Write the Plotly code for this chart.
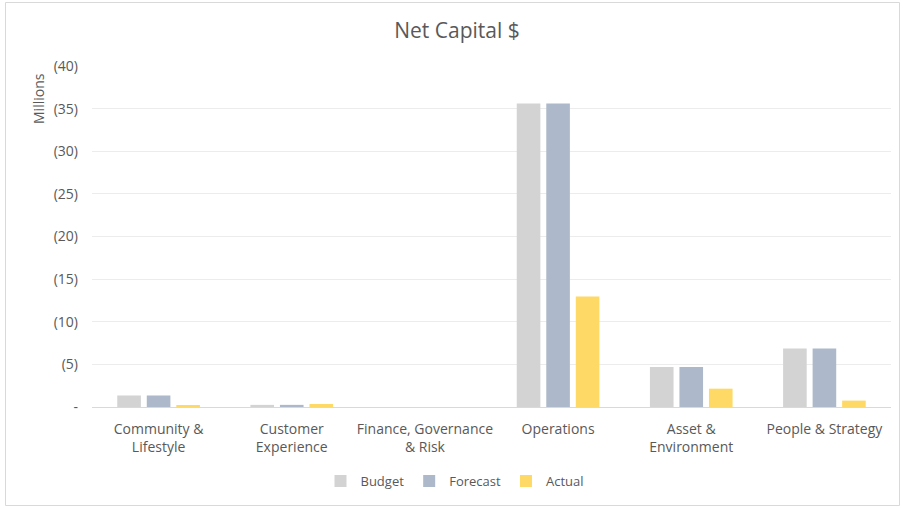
import plotly.graph_objects as go

categories = ["Community &<br>Lifestyle", "Customer<br>Experience", "Finance, Governance<br>& Risk",
              "Operations", "Asset &<br>Environment", "People & Strategy"]
budget = [1.35, 0.25, 0.0, 35.6, 4.7, 6.85]
forecast = [1.35, 0.25, 0.0, 35.6, 4.7, 6.85]
actual = [0.15, 0.35, 0.0, 12.95, 2.15, 0.75]
tick_vals = [0, 5, 10, 15, 20, 25, 30, 35, 40]
tick_text = ["-", "(5)", "(10)", "(15)", "(20)", "(25)", "(30)", "(35)", "(40)"]

W, H = 903, 508
L, R, T, B = 92, 12, 66, 101
pw, ph = W - L - R, H - T - B

def px(x):
    return (x - L) / pw

def py(y):
    return (H - B - y) / ph

font = "Open Sans, Liberation Sans, sans-serif"
grey = "#595959"

fig = go.Figure()
for name, vals, col in [("Budget", budget, "#d3d3d3"), ("Forecast", forecast, "#adb9ca"), ("Actual", actual, "#ffd966")]:
    fig.add_bar(x=categories, y=vals, name=name, marker=dict(color=col, line=dict(width=0)))

fig.update_layout(
    width=W, height=H,
    margin=dict(l=L, r=R, t=T, b=B),
    paper_bgcolor="white", plot_bgcolor="white",
    barmode="group", bargap=0.335, bargroupgap=0.2,
    font=dict(family=font, color=grey, size=13),
    title=dict(text="Net Capital $", x=px(457), xref="paper", xanchor="center",
               y=1 - 31 / H, yanchor="middle", font=dict(size=21, color=grey)),
    legend=dict(orientation="h", x=px(455), xanchor="center", y=py(481), yanchor="middle",
                font=dict(size=13, color=grey), itemwidth=30, traceorder="normal"),
    showlegend=True,
)
fig.update_yaxes(range=[0, 40], tickvals=tick_vals, ticktext=tick_text, showgrid=True,
                 gridcolor="#ececec", gridwidth=1, zeroline=False, showline=False,
                 ticks="", ticklabelstandoff=13, tickfont=dict(size=14, color=grey))
fig.update_xaxes(showline=True, linecolor="#d9d9d9", linewidth=1, ticks="",
                 ticklabelstandoff=9, tickfont=dict(size=14, color=grey), showgrid=False)

fig.add_annotation(text="Millions", textangle=-90, x=px(38), y=py(99), xref="paper", yref="paper",
                   showarrow=False, font=dict(size=14, color=grey), xanchor="center", yanchor="middle")
fig.add_shape(type="rect", xref="paper", yref="paper", x0=px(5.5), x1=px(899.5), y0=py(2.5), y1=py(505.5),
              line=dict(color="#d9d9d9", width=1), fillcolor="rgba(0,0,0,0)", layer="below")

fig.write_html("out.html")
